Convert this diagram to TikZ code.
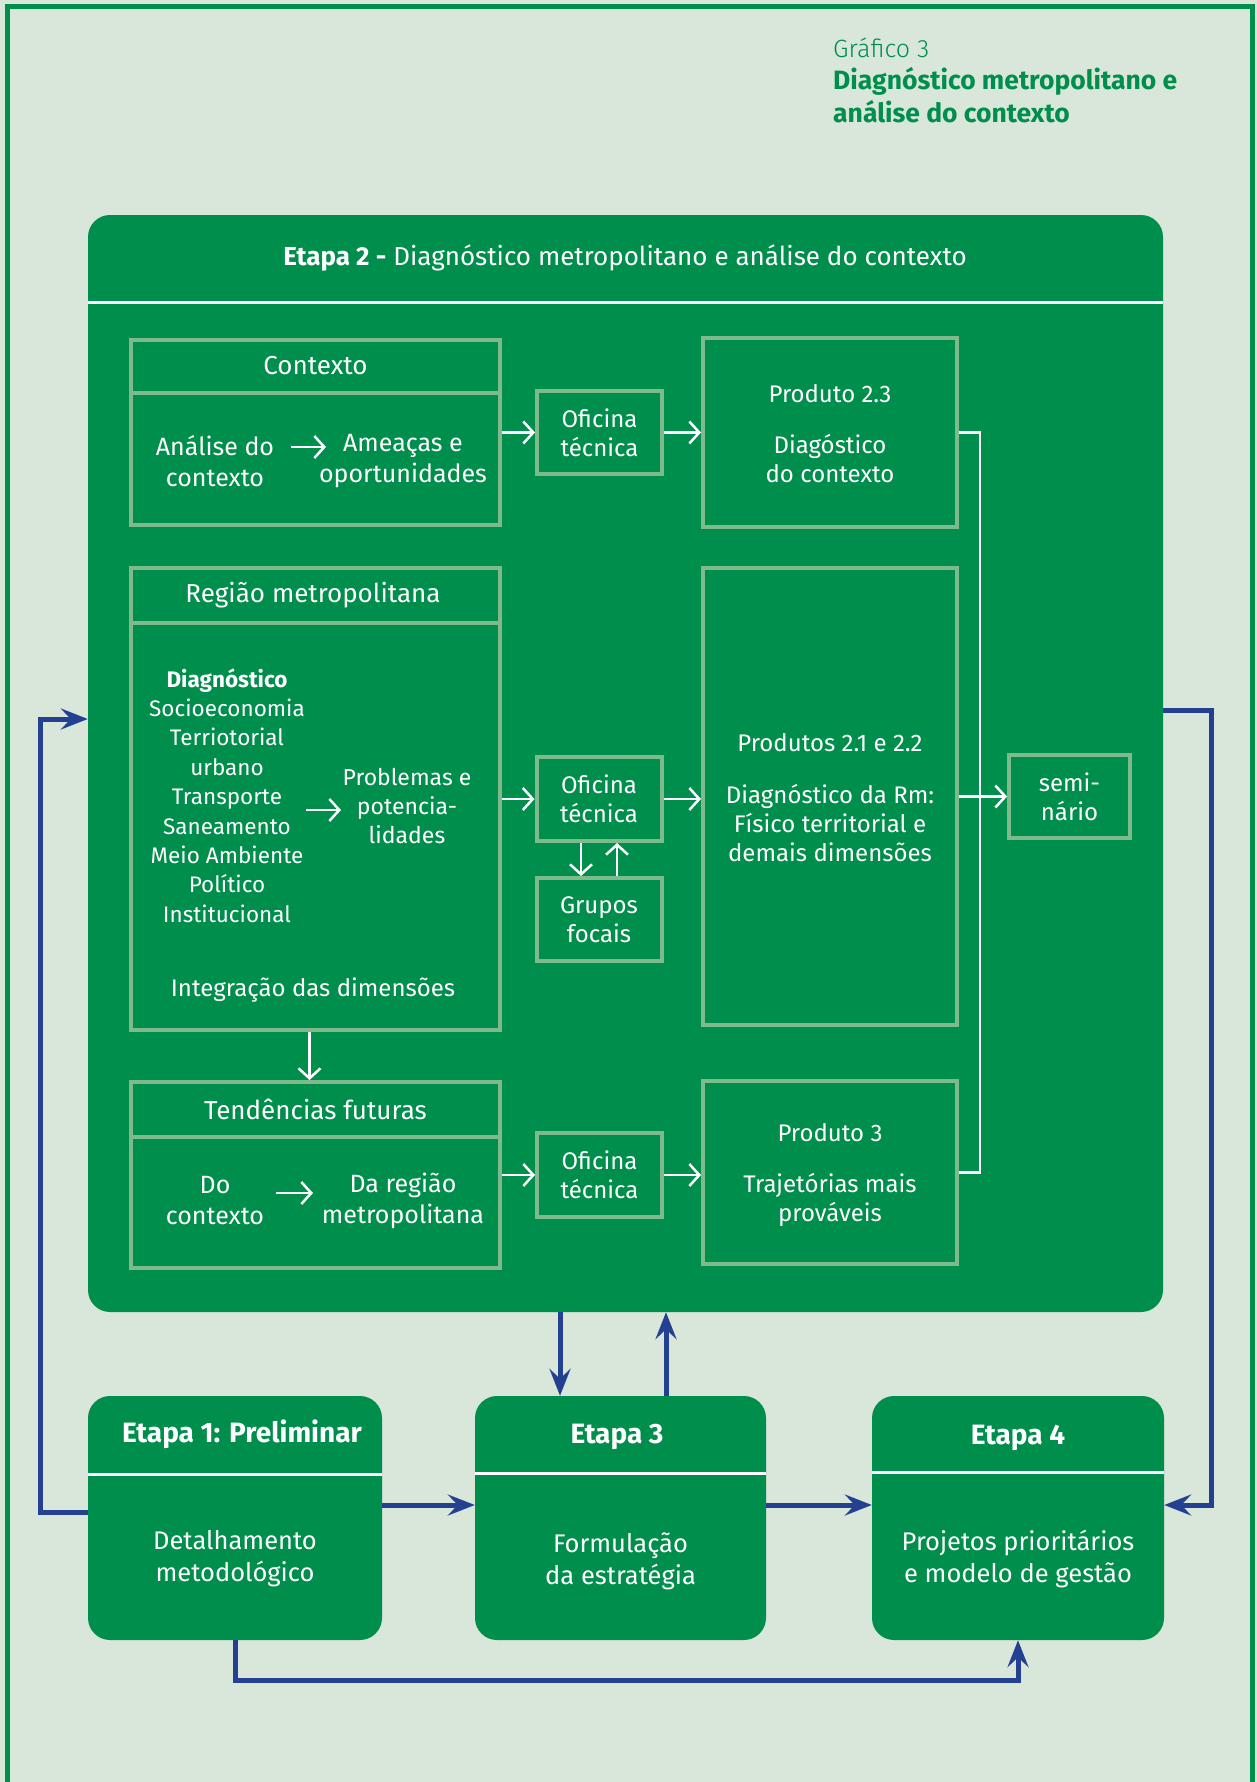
\documentclass[tikz,border=0pt]{standalone}
\usepackage{fontspec}
\setmainfont{Fira Sans}
\newfontfamily\lightfont{Fira Sans Light}
\usetikzlibrary{arrows.meta}

\definecolor{pagebg}{RGB}{217,230,218}
\definecolor{mgreen}{RGB}{0,142,76}
\definecolor{frame}{RGB}{126,186,140}
\definecolor{flow}{RGB}{36,64,145}

\tikzset{
  stage/.style={fill=mgreen, rounded corners=22pt, inner sep=0pt},
  panel/.style={draw=frame, line width=4pt, inner sep=0pt},
  divider/.style={draw=frame, line width=4pt},
  headline/.style={draw=white, line width=3pt},
  txt/.style={text=white, align=center, inner sep=0pt, font=\fontsize{24}{29}\selectfont},
  body/.style={txt, font=\fontsize{25}{31}\selectfont},
  paneltitle/.style={txt, font=\fontsize{26}{31}\selectfont},
  list/.style={txt, font=\fontsize{22.5}{29.4}\selectfont},
  stagetitle/.style={txt, font=\fontsize{28}{32}\selectfont\bfseries},
  stagebody/.style={txt, font=\fontsize{25.5}{32}\selectfont},
  wline/.style={draw=white, line width=2.5pt, line join=miter},
  wflow/.style={wline, -{Straight Barb[length=10pt,width=22pt]}},
  bflow/.style={draw=flow, line width=5pt, line join=miter, -{Stealth[length=27pt,width=21pt,inset=10pt]}},
}

\begin{document}
\begin{tikzpicture}[x=1pt, y=-1pt]
  \useasboundingbox (0,0) rectangle (1257,1782);
  % page and frame
  \fill[pagebg] (0,0) rectangle (1257,1782);
  \draw[mgreen, line width=5pt, line join=miter] (7.5,1782) -- (7.5,6.5) -- (1252.5,6.5) -- (1252.5,1782);

  % caption
  \node[anchor=west, inner sep=0pt, text=mgreen, font=\fontsize{25}{30}\lightfont] (cap1) at (833,48) {Gráfico 3};
  \node[anchor=west, inner sep=0pt, text=mgreen, font=\fontsize{26.5}{30}\selectfont\bfseries] (cap2) at (833,81) {Diagnóstico metropolitano e};
  \node[anchor=west, inner sep=0pt, text=mgreen, font=\fontsize{26.5}{30}\selectfont\bfseries] (cap3) at (833,112) {análise do contexto};

  % stage 2 container
  \node[stage, minimum width=1075pt, minimum height=1097pt] (e2) at (625.5,763.5) {};
  \draw[headline] (e2.west |- 0,302) -- (e2.east |- 0,302);
  \node[txt, font=\fontsize{26}{30}\selectfont] (e2t) at (625,258) {\textbf{Etapa 2 -} Diagnóstico metropolitano e análise do contexto};

  % row 1: context
  \node[panel, minimum width=369pt, minimum height=185pt] (ctx) at (315.5,432.5) {};
  \draw[divider] (ctx.west |- 0,393) -- (ctx.east |- 0,393);
  \node[paneltitle] (ctxt) at (315.5,366) {Contexto};
  \node[body] (ctxa) at (215,461) {Análise do\\contexto};
  \node[body] (ctxb) at (403,461) {Ameaças e\\oportunidades};
  \draw[wflow] (291,447) -- (326,447);

  \node[panel, minimum width=125pt, minimum height=83pt] (of1) at (599.5,432.5) {};
  \node[txt] (of1t) at (of1) {Oficina\\técnica};
  \node[panel, minimum width=254pt, minimum height=189pt] (p23) at (830,432.5) {};
  \node[txt] (p23a) at (830,394) {Produto 2.3};
  \node[txt] (p23b) at (830,459) {Diagóstico\\do contexto};
  \draw[wflow] (ctx.east) -- (of1.west);
  \draw[wflow] (of1.east) -- (p23.west);

  % row 2: metropolitan region
  \node[panel, minimum width=369pt, minimum height=462pt] (reg) at (315.5,799) {};
  \draw[divider] (reg.west |- 0,623) -- (reg.east |- 0,623);
  \node[paneltitle] (regt) at (313,595) {Região metropolitana};
  \node[list] (regl) at (227,795.5) {\textbf{Diagnóstico}\\Socioeconomia\\Terriotorial\\urbano\\Transporte\\Saneamento\\Meio Ambiente\\Político\\Institucional};
  \draw[wflow] (306,810) -- (341,810);
  \node[txt, font=\fontsize{23}{29}\selectfont] (regp) at (407,806) {Problemas e\\potencia-\\lidades};
  \node[txt] (regi) at (313,990) {Integração das dimensões};

  \node[panel, minimum width=125pt, minimum height=84pt] (of2) at (599,799) {};
  \node[txt] (of2t) at (of2) {Oficina\\técnica};
  \node[panel, minimum width=125pt, minimum height=83pt] (grp) at (599,919.5) {};
  \node[txt] (grpt) at (grp) {Grupos\\focais};
  \draw[wflow] ([xshift=-18pt]of2.south) -- ([xshift=-18pt]grp.north);
  \draw[wflow] ([xshift=18pt]grp.north) -- ([xshift=18pt]of2.south);

  \node[panel, minimum width=254pt, minimum height=457pt] (p21) at (830,796.5) {};
  \node[txt] (p21a) at (830,743) {Produtos 2.1 e 2.2};
  \node[txt] (p21b) at (830,823) {Diagnóstico da Rm:\\Físico territorial e\\demais dimensões};
  \draw[wflow] (reg.east) -- (of2.west);
  \draw[wflow] (of2.east) -- (of2.east -| p21.west);

  \node[panel, minimum width=121pt, minimum height=83pt] (sem) at (1069.5,796.5) {};
  \node[txt] (semt) at (sem) {semi-\\nário};

  % row 3: future trends
  \node[panel, minimum width=369pt, minimum height=186pt] (tend) at (315.5,1175) {};
  \draw[divider] (tend.west |- 0,1137) -- (tend.east |- 0,1137);
  \node[paneltitle] (tendt) at (315.5,1109) {Tendências futuras};
  \node[body] (tenda) at (215,1201) {Do\\contexto};
  \node[body] (tendb) at (403,1201) {Da região\\metropolitana};
  \draw[wflow] (276,1193) -- (313,1193);
  \draw[wflow] ([xshift=-6pt]reg.south) -- ([xshift=-6pt]tend.north);

  \node[panel, minimum width=125pt, minimum height=84pt] (of3) at (599.5,1175) {};
  \node[txt] (of3t) at (of3) {Oficina\\técnica};
  \node[panel, minimum width=254pt, minimum height=183pt] (p3) at (830,1172.5) {};
  \node[txt] (p3a) at (830,1133) {Produto 3};
  \node[txt] (p3b) at (830,1199.5) {Trajetórias mais\\prováveis};
  \draw[wflow] (tend.east |- of3.west) -- (of3.west);
  \draw[wflow] (of3.east) -- (of3.east -| p3.west);

  % collector of the products
  \coordinate (busTop) at (980,432.5);
  \coordinate (busBot) at (980,1172.5);
  \draw[wline] (p23.east) -- (busTop) -- (busBot) -- (p3.east);
  \draw[wflow] (p21.east) -- (sem.west);

  % stages 1, 3 and 4
  \node[stage, minimum width=294pt, minimum height=244pt] (e1) at (235,1518) {};
  \draw[headline] (e1.west |- 0,1474) -- (e1.east |- 0,1474);
  \node[stagetitle] (e1t) at (242,1434) {Etapa 1: Preliminar};
  \node[stagebody] (e1b) at (235,1559) {Detalhamento\\metodológico};

  \node[stage, minimum width=291pt, minimum height=244pt] (e3) at (620.5,1518) {};
  \draw[headline] (e3.west |- 0,1473) -- (e3.east |- 0,1473);
  \node[stagetitle] (e3t) at (617,1437) {Etapa 3};
  \node[stagebody] (e3b) at (620.5,1561) {Formulação\\da estratégia};

  \node[stage, minimum width=292pt, minimum height=244pt] (e4) at (1018,1518) {};
  \draw[headline] (e4.west |- 0,1472) -- (e4.east |- 0,1472);
  \node[stagetitle] (e4t) at (1018,1438) {Etapa 4};
  \node[stagebody] (e4b) at (1018,1559) {Projetos prioritários\\e modelo de gestão};

  % flow between stages
  \draw[bflow] (e1.east |- 0,1505) -- (e3.west |- 0,1505);
  \draw[bflow] (e3.east |- 0,1505) -- (e4.west |- 0,1505);
  \draw[bflow] ([xshift=-60.5pt]e3.north |- e2.south) -- ([xshift=-60.5pt]e3.north);
  \draw[bflow] ([xshift=45.5pt]e3.north) -- ([xshift=45.5pt]e3.north |- e2.south);
  \draw[bflow] (e1.west |- 0,1512) -- (40,1512) -- (40,719) -- (e2.west |- 0,719);
  \draw[bflow] (e2.east |- 0,710) -- (1211,710) -- (1211,1505) -- (e4.east |- 0,1505);
  \draw[bflow] (e1.south) -- (e1.south |- 0,1680) -- (e4.south |- 0,1680) -- (e4.south);
\end{tikzpicture}
\end{document}
